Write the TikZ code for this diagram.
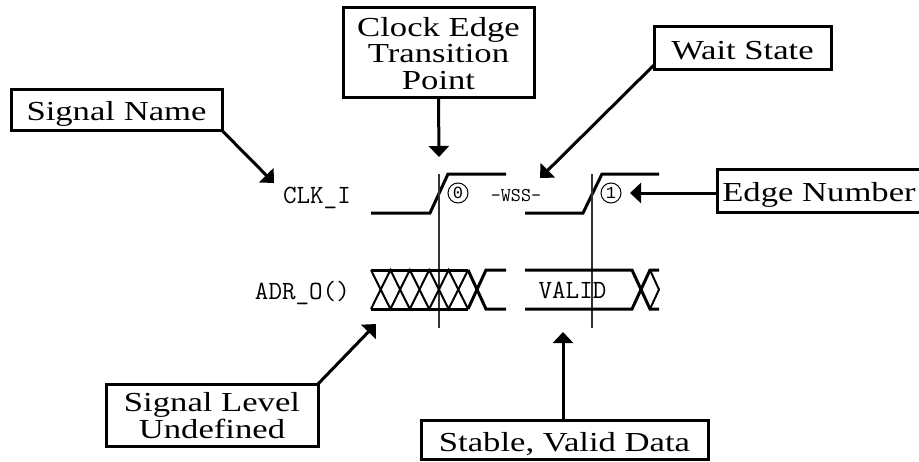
\documentclass[tikz,border=0pt]{standalone}
\usepackage{fontspec}
\usetikzlibrary{arrows.meta}
\newfontfamily\boxfont[FakeStretch=1.26]{Liberation Serif}
\newfontfamily\zerofont{Liberation Mono}
\tikzset{
  labelbox/.style={draw=black,line width=3pt,fill=white,inner sep=0pt,outer sep=0pt,align=center,text depth=0pt,
    font=\boxfont\fontsize{27.5}{26.3}\selectfont},
  callout/.style={line width=3pt,-{Triangle[width=20pt,length=11pt]},shorten >=0pt},
  wave/.style={line width=3pt,line join=miter},
  thinwave/.style={line width=2pt},
  marker/.style={line width=1.5pt,draw=black!80},
  signame/.style={inner sep=0pt,anchor=base east,font=\ttfamily\fontsize{26.3}{26.3}\selectfont},
  edgenum/.style={circle,draw=black,line width=1pt,minimum size=20pt,inner sep=0pt,font=\zerofont\fontsize{17}{17}\selectfont}
}
\begin{document}
\begin{tikzpicture}[x=1pt,y=-1pt]
\useasboundingbox (0,0) rectangle (919,461);
\clip (0,0) rectangle (919,461);
% label boxes
\node[labelbox,text height=20pt,minimum width=211pt,minimum height=41pt] (sn) at (116.5,110) {Signal Name};
\node[labelbox,text height=73pt,minimum width=191pt,minimum height=90pt] (ce) at (438.5,52.5) {Clock Edge\\Transition\\Point};
\node[labelbox,text height=23.6pt,minimum width=177pt,minimum height=43pt] (ws) at (742.5,47.5) {Wait State};
\node[labelbox,text height=22.4pt,minimum width=204pt,minimum height=43pt] (en) at (819,190.5) {Edge Number};
\node[labelbox,text height=46pt,minimum width=212pt,minimum height=62pt] (sl) at (212,415) {Signal Level\\Undefined};
\node[labelbox,text height=23pt,minimum width=287pt,minimum height=39pt] (sv) at (564.5,439.5) {Stable, Valid Data};
% arrow targets
\coordinate (tsn) at (274,183);
\coordinate (tce) at (439,157);
\coordinate (tws) at (540,178);
\coordinate (ten) at (630,193);
\coordinate (tsl) at (376,324);
\coordinate (tsv) at (563,332);
\draw[callout] (sn.south east) -- (tsn);
\draw[callout] (ce.south) -- (tce);
\draw[callout] (ws.south west |- 0,65) -- (tws);
\draw[callout] (en.west |- ten) -- (ten);
\draw[callout] (sl.north east) -- (tsl);
\draw[callout] (563,420) -- (tsv);
% signal names
\node[signame] (clk) at (351,203) {CLK\_I};
\node[signame] (adr) at (350,299) {ADR\_O()};
\node[inner sep=0pt,anchor=base,font=\ttfamily\fontsize{19.5}{19.5}\selectfont] (wss) at (516,201) {-WSS-};
\node[inner sep=0pt,anchor=base,font=\ttfamily\fontsize{26.3}{26.3}\selectfont] (val) at (572.5,298) {VALID};
% clock
\draw[wave] (371,213) -- (430,213) -- (448,174) -- (506,174);
\draw[wave] (525,213) -- (583,213) -- (602,174) -- (659,174);
% marker lines
\draw[marker] (439,174) -- (439,328);
\draw[marker] (592,174) -- (592,328);
% edge numbers
\node[edgenum] (e0) at (458,193) {0};
\node[edgenum] (e1) at (611,193) {1};
% undefined bus
\draw[wave] (371,270) -- (468,270) (371,309) -- (468,309);
\draw[thinwave] (371,270) -- (390.4,309) -- (409.8,270) -- (429.2,309) -- (448.6,270) -- (468,309);
\draw[thinwave] (371,309) -- (390.4,270) -- (409.8,309) -- (429.2,270) -- (448.6,309) -- (468,270);
\draw[wave] (468,270) -- (486,309) -- (506,309);
\draw[wave] (468,309) -- (486,270) -- (506,270);
% valid bus
\draw[wave] (525,270) -- (632,270) -- (650,309) -- (659,309);
\draw[wave] (525,309) -- (632,309) -- (650,270) -- (659,270);
\draw[thinwave] (650,270) -- (659,289.5) -- (650,309);
\end{tikzpicture}
\end{document}
